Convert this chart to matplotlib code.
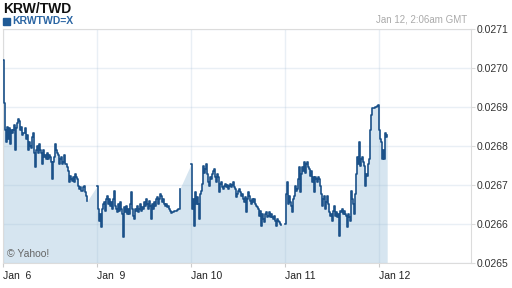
import numpy as np
import matplotlib
matplotlib.use("Agg")
import matplotlib.pyplot as plt
from matplotlib.patches import Rectangle

plt.rcParams['font.family'] = ['Liberation Sans', 'DejaVu Sans']

# trading sessions, hours on a compressed axis (weekend removed): Jan 6 = 0, Jan 9 = 24, ...
session_start = [0.0, 24.0, 48.0, 72.0]
session_end = [21.45, 45.1, 70.9, 98.1]

jan6 = [0.027021, 0.026911, 0.026842, 0.026809, 0.026850, 0.026817, 0.026847, 0.026804,
        0.026842, 0.026834, 0.026842, 0.026855, 0.026791, 0.026847, 0.026860, 0.026868,
        0.026863, 0.026842, 0.026850, 0.026829, 0.026834, 0.026847, 0.026817, 0.026829,
        0.026791, 0.026811, 0.026799, 0.026796, 0.026822, 0.026834, 0.026783, 0.026745,
        0.026791, 0.026799, 0.026783, 0.026804, 0.026791, 0.026783, 0.026753, 0.026791,
        0.026773, 0.026778, 0.026766, 0.026783, 0.026766, 0.026778, 0.026771, 0.026760,
        0.026715, 0.026760, 0.026773, 0.026804, 0.026791, 0.026783, 0.026778, 0.026753,
        0.026766, 0.026771, 0.026753, 0.026760, 0.026778, 0.026753, 0.026745, 0.026735,
        0.026707, 0.026722, 0.026715, 0.026709, 0.026720, 0.026707, 0.026727, 0.026720,
        0.026715, 0.026697, 0.026689, 0.026694, 0.026684, 0.026684, 0.026694, 0.026697,
        0.026681, 0.026671, 0.026658]

jan9 = [0.026697, 0.026638, 0.026607, 0.026625, 0.026592, 0.026638, 0.026651, 0.026656,
        0.026633, 0.026663, 0.026671, 0.026651, 0.026663, 0.026646, 0.026656, 0.026638,
        0.026663, 0.026684, 0.026646, 0.026638, 0.026630, 0.026651, 0.026633, 0.026656,
        0.026638, 0.026625, 0.026566, 0.026643, 0.026630, 0.026646, 0.026625, 0.026638,
        0.026625, 0.026651, 0.026681, 0.026638, 0.026620, 0.026612, 0.026638, 0.026633,
        0.026646, 0.026630, 0.026638, 0.026651, 0.026633, 0.026643, 0.026638, 0.026656,
        0.026646, 0.026663, 0.026651, 0.026638, 0.026658, 0.026646, 0.026612, 0.026651,
        0.026638, 0.026656, 0.026646, 0.026663, 0.026669, 0.026651, 0.026663, 0.026676,
        0.026671, 0.026656, 0.026663, 0.026651, 0.026646, 0.026651, 0.026643, 0.026646,
        0.026638, 0.026633, 0.026628, 0.026630, 0.026630, 0.026633, 0.026633, 0.026633,
        0.026635, 0.026638, 0.026638, 0.026689]

jan10 = [0.026753, 0.026638, 0.026663, 0.026595, 0.026681, 0.026651, 0.026669, 0.026651,
         0.026612, 0.026676, 0.026684, 0.026702, 0.026748, 0.026732, 0.026740, 0.026753,
         0.026727, 0.026707, 0.026697, 0.026720, 0.026715, 0.026727, 0.026735, 0.026740,
         0.026720, 0.026707, 0.026727, 0.026720, 0.026681, 0.026702, 0.026707, 0.026694,
         0.026689, 0.026697, 0.026702, 0.026694, 0.026699, 0.026689, 0.026697, 0.026702,
         0.026694, 0.026699, 0.026707, 0.026694, 0.026689, 0.026669, 0.026676, 0.026684,
         0.026689, 0.026681, 0.026671, 0.026676, 0.026663, 0.026656, 0.026669, 0.026630,
         0.026663, 0.026681, 0.026671, 0.026658, 0.026651, 0.026663, 0.026656, 0.026663,
         0.026651, 0.026646, 0.026643, 0.026638, 0.026620, 0.026633, 0.026595, 0.026625,
         0.026612, 0.026605, 0.026625, 0.026630, 0.026618, 0.026620, 0.026630, 0.026618,
         0.026625, 0.026618, 0.026612, 0.026620, 0.026607, 0.026595, 0.026612, 0.026607,
         0.026605, 0.026600, 0.026597]

jan11 = [0.026600, 0.026676, 0.026707, 0.026651, 0.026671, 0.026656, 0.026646, 0.026630,
         0.026663, 0.026671, 0.026697, 0.026684, 0.026689, 0.026715, 0.026745, 0.026681,
         0.026727, 0.026745, 0.026735, 0.026758, 0.026732, 0.026753, 0.026760, 0.026745,
         0.026740, 0.026722, 0.026735, 0.026707, 0.026720, 0.026681, 0.026720, 0.026715,
         0.026707, 0.026720, 0.026715, 0.026697, 0.026676, 0.026646, 0.026663, 0.026671,
         0.026638, 0.026656, 0.026671, 0.026651, 0.026630, 0.026620, 0.026625, 0.026607,
         0.026633, 0.026646, 0.026620, 0.026630, 0.026618, 0.026625, 0.026569, 0.026633,
         0.026630, 0.026638, 0.026625, 0.026633, 0.026625, 0.026620, 0.026592, 0.026625,
         0.026618, 0.026607, 0.026684, 0.026663, 0.026651, 0.026625, 0.026676, 0.026727,
         0.026773, 0.026753, 0.026811, 0.026748, 0.026766, 0.026773, 0.026758, 0.026748,
         0.026697, 0.026727, 0.026722, 0.026753, 0.026766, 0.026842, 0.026880, 0.026898,
         0.026898, 0.026898, 0.026901, 0.026901, 0.026903, 0.026906, 0.026842, 0.026817,
         0.026809, 0.026766, 0.026791, 0.026766, 0.026834, 0.026822, 0.026829]

sessions = [jan6, jan9, jan10, jan11]
day_ticks = [0, 24, 48, 72, 96]
day_labels = ["Jan  6", "Jan  9", "Jan 10", "Jan 11", "Jan 12"]
y_ticks = [0.0265, 0.0266, 0.0267, 0.0268, 0.0269, 0.0270, 0.0271]

line_color = '#1b5189'
fill_color = '#d6e5f0'

fig = plt.figure(figsize=(5.12, 2.88), dpi=100)
ax = fig.add_axes([3/512, 1 - 263/288, 468/512, 234/288])

all_t, all_v = [], []
for s, e, vals in zip(session_start, session_end, sessions):
    t = np.linspace(s, e, len(vals))
    ax.plot(t, vals, color=line_color, lw=1.2, drawstyle='steps-post', zorder=3)
    all_t.extend(t)
    all_v.extend(vals)

ax.fill_between(all_t, all_v, 0.0265, color=fill_color, lw=0, zorder=0.3)

ax.set_xlim(0, 119.5)
ax.set_ylim(0.0265, 0.0271)
ax.set_xticks(day_ticks)
ax.set_xticklabels(day_labels)
for lab in ax.get_xticklabels():
    lab.set_horizontalalignment('left')
ax.set_yticks(y_ticks)
ax.set_yticklabels(['%.4f' % v for v in y_ticks])
ax.yaxis.tick_right()

ax.set_axisbelow(True)
ax.grid(True, color='#9fb9d3', alpha=0.22, lw=1)
for sp in ax.spines.values():
    sp.set_color('#dcdcdc')
ax.tick_params(axis='x', length=3, color='#cccccc', labelsize=7.5, labelcolor='#222222', pad=3)
ax.tick_params(axis='y', length=3, color='#dcdcdc', labelsize=7.5, labelcolor='#333333', pad=1)

fig.text(3/512, 1 - 9/288, "KRW/TWD", fontsize=10, fontweight='bold', color='#111111', va='center')
fig.patches.append(Rectangle((3/512, 1 - 25/288), 7/512, 7/288, transform=fig.transFigure,
                             color='#1f5a96'))
fig.text(12/512, 1 - 21.5/288, "KRWTWD=X", fontsize=7.5, fontweight='bold', color='#2a65a3', va='center')
fig.text(467/512, 1 - 20/288, "Jan 12, 2:06am GMT", fontsize=7, color='#aaaaaa', ha='right', va='center')
ax.text(7/512, 1 - 254/288, "\u00a9 Yahoo!", transform=fig.transFigure, fontsize=7.5,
        color='#666666', va='center')

fig.savefig('out.png', dpi=100)
